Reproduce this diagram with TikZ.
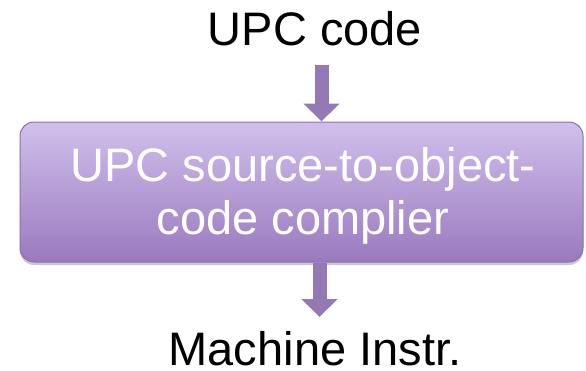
\documentclass[tikz,border=0pt]{standalone}
\usepackage{fontspec}
\setmainfont{Liberation Sans}
\usetikzlibrary{positioning,arrows.meta,shadows}
\definecolor{boxtop}{RGB}{208,191,236}
\definecolor{boxbottom}{RGB}{154,122,190}
\definecolor{boxline}{RGB}{140,110,176}
\definecolor{arrowfill}{RGB}{148,121,180}
\tikzset{
  label text/.style={font=\fontsize{47}{53}\selectfont, inner sep=0pt},
  compiler/.style={rounded corners=14pt, draw=boxline, line width=1pt,
    top color=boxtop, bottom color=boxbottom,
    minimum width=563pt, minimum height=140pt,
    drop shadow={shadow xshift=0pt, shadow yshift=-3pt, opacity=0.35, fill=black!60}},
  flow/.style={draw=arrowfill, line width=14pt,
    -{Triangle[width=35pt,length=18pt]}}
}
\begin{document}
\begin{tikzpicture}[x=1pt,y=-1pt]
\useasboundingbox (0,0) rectangle (586,370);
\node[label text, anchor=base] (src) at (315,45) {UPC code};
\node[compiler] (box) at (301.5,192) {};
\node[label text, anchor=north, text=white, align=center] (boxtext) at (303,147.7)
  {UPC source-to-object-\\code complier};
\node[label text, anchor=base] (dst) at (315,365) {Machine Instr.};
\draw[flow] ([shift={(6.5,20)}]src.base) coordinate (a1) -- (a1 |- box.north);
\draw[flow] ([xshift=4.5pt]dst.base |- box.south) -- ([shift={(4.5,-48)}]dst.base);
\end{tikzpicture}
\end{document}
